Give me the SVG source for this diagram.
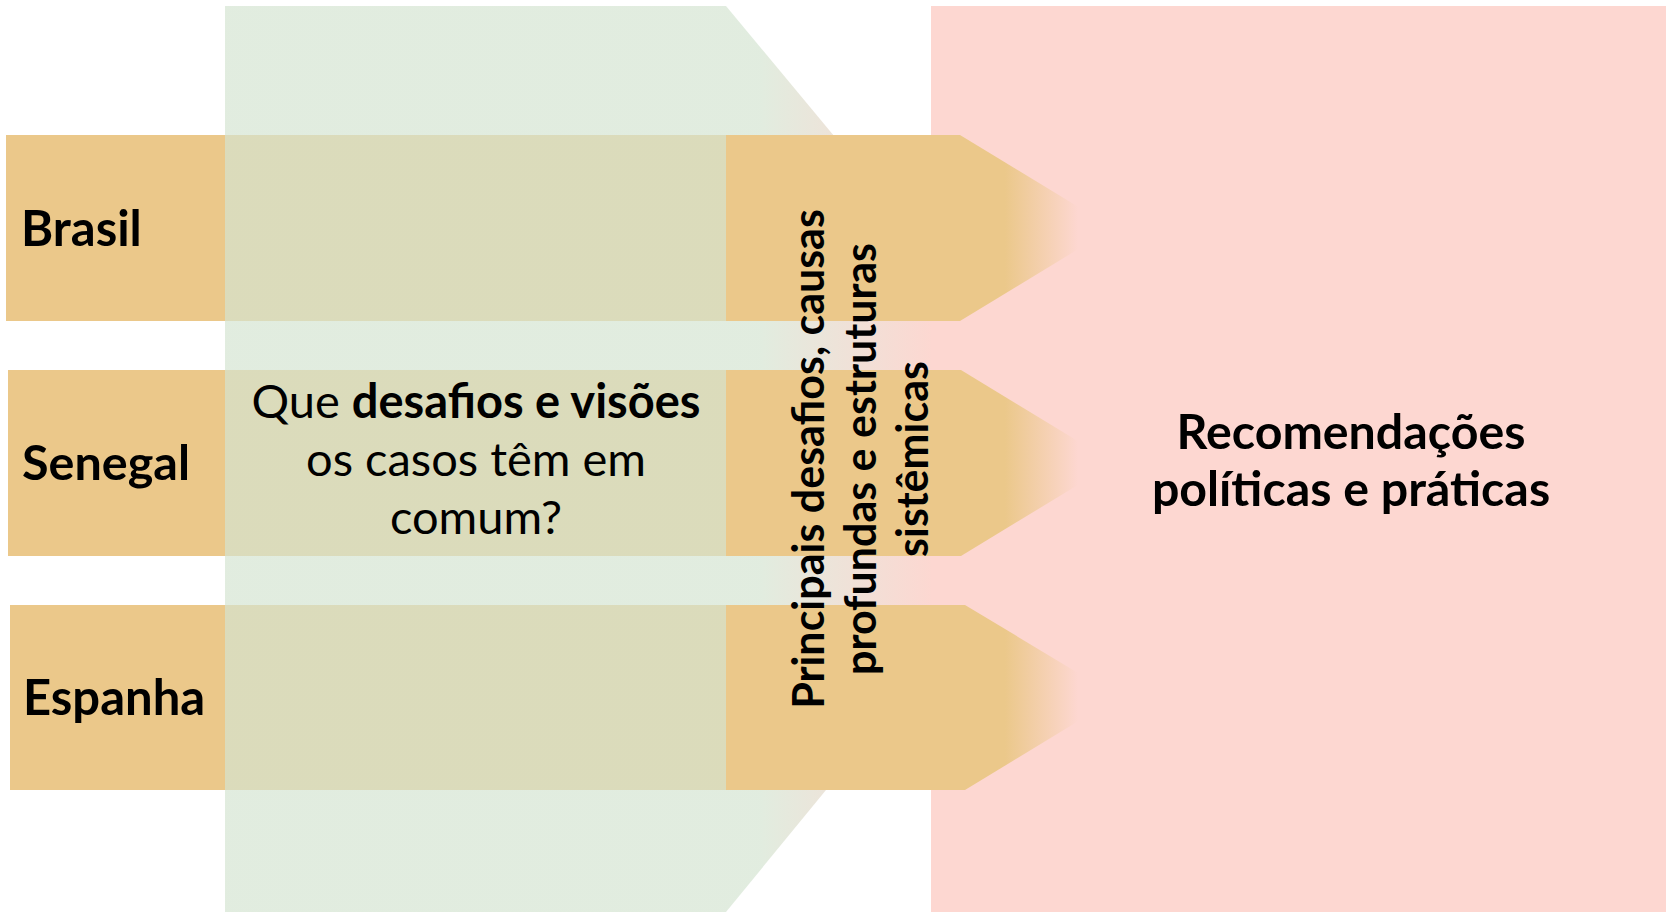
<svg xmlns="http://www.w3.org/2000/svg" width="1666" height="913" viewBox="0 0 1666 913">
  <style>
    .lbl { font-family: Lato, "Liberation Sans", sans-serif; fill: #000; }
    .b { font-weight: bold; }
    .row { fill: #EBC88A; }
  </style>
  <defs>
    <!-- translucent green band, shading into the pink on its right side -->
    <linearGradient id="greenFade" gradientUnits="userSpaceOnUse" x1="760" y1="0" x2="935" y2="0">
      <stop offset="0" stop-color="#D4E4D1"/>
      <stop offset="1" stop-color="#FCC5BC"/>
    </linearGradient>
    <!-- orange arrow heads fading out over the pink panel -->
    <linearGradient id="arrowFade" gradientUnits="userSpaceOnUse" x1="1005" y1="0" x2="1078" y2="0">
      <stop offset="0" stop-color="#EBC88A" stop-opacity="1"/>
      <stop offset="1" stop-color="#EBC88A" stop-opacity="0"/>
    </linearGradient>
  </defs>

  <!-- country rows (left part) -->
  <g id="brasil">
    <rect class="row" x="6" y="135" width="722" height="186"/>
    <text class="lbl b" x="21" y="246" font-size="49">Brasil</text>
  </g>
  <g id="senegal">
    <rect class="row" x="8" y="370" width="720" height="186"/>
    <text class="lbl b" x="22" y="480" font-size="48.5">Senegal</text>
  </g>
  <g id="espanha">
    <rect class="row" x="10" y="605" width="718" height="185"/>
    <text class="lbl b" x="23" y="715" font-size="49">Espanha</text>
  </g>

  <!-- common-question band -->
  <g id="pergunta">
    <polygon points="225,6 726,6 1100,456 726,912 225,912" fill="url(#greenFade)" fill-opacity="0.69"/>
    <text class="lbl" x="476" y="418" font-size="47" text-anchor="middle">Que <tspan class="b">desafios e visões</tspan></text>
    <text class="lbl" x="476" y="476" font-size="47" text-anchor="middle">os casos têm em</text>
    <text class="lbl" x="476" y="534" font-size="47" text-anchor="middle">comum?</text>
  </g>

  <!-- recommendations panel -->
  <g id="recomendacoes">
    <rect x="931" y="6" width="735" height="906" fill="#FDD7D1"/>
    <text class="lbl b" x="1351" y="449" font-size="48.3" text-anchor="middle">Recomendações</text>
    <text class="lbl b" x="1351" y="506" font-size="48.3" text-anchor="middle">políticas e práticas</text>
  </g>

  <!-- arrows linking each case to the recommendations -->
  <g id="connectors">
    <polygon points="726,135 960,135 1113,228 960,321 726,321" fill="url(#arrowFade)"/>
    <polygon points="726,370 961,370 1114,463 961,556 726,556" fill="url(#arrowFade)"/>
    <polygon points="726,605 965,605 1118,697 965,790 726,790" fill="url(#arrowFade)"/>
  </g>

  <!-- root causes column -->
  <g id="causas" transform="translate(0,459) rotate(-90)">
    <text class="lbl b" x="0" y="824" font-size="43" text-anchor="middle">Principais desafios, causas</text>
    <text class="lbl b" x="0" y="876" font-size="43" text-anchor="middle">profundas e estruturas</text>
    <text class="lbl b" x="0" y="928" font-size="43" text-anchor="middle">sistêmicas</text>
  </g>
</svg>
